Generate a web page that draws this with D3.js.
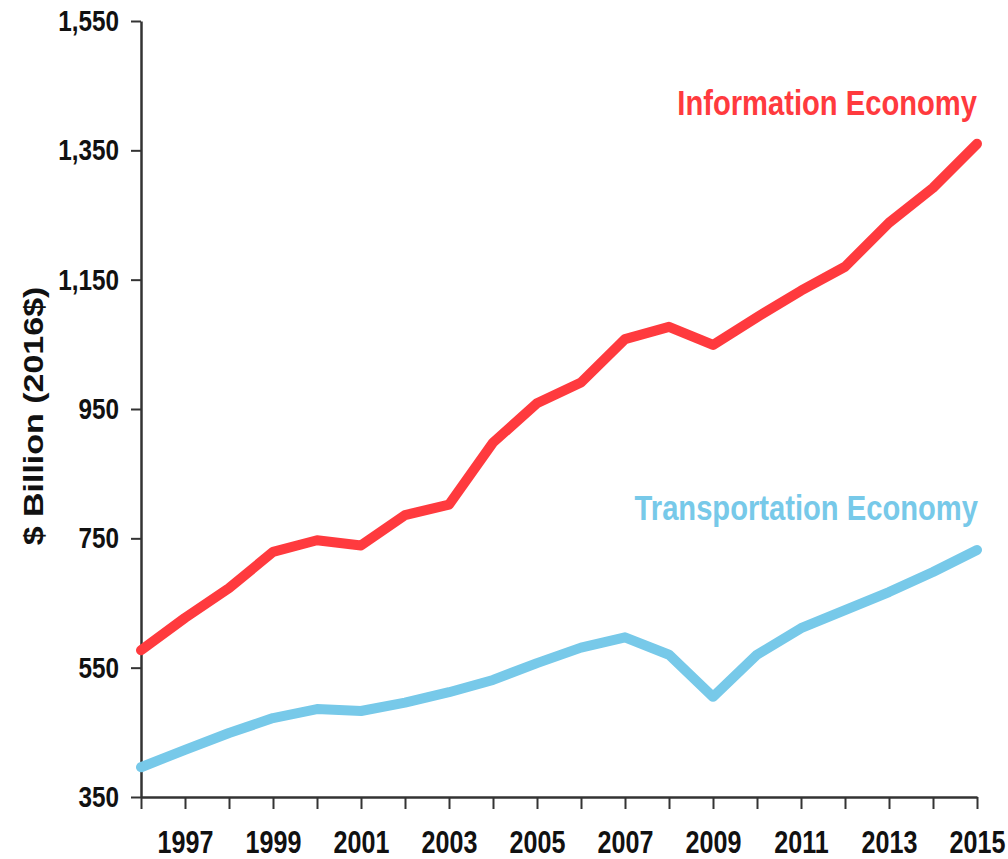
<!DOCTYPE html>
<html>
<head>
<meta charset="utf-8">
<script src="https://cdn.jsdelivr.net/npm/d3@7"></script>
<style>
  body { margin: 0; background: #fff; }
  svg { display: block; }
  text { font-family: "Liberation Sans", Arial, sans-serif; font-weight: bold; }
</style>
</head>
<body>
<svg width="1008" height="859"></svg>
<script>
// data
const years = d3.range(1996, 2016);
const information = [577, 627, 673, 729, 747, 739, 786, 802, 898, 959, 991, 1058, 1077, 1049, 1092, 1133, 1170, 1238, 1292, 1360];
const transportation = [396, 423, 449, 472, 486, 483, 496, 512, 531, 557, 581, 597, 570, 505, 570, 611, 639, 667, 698, 732];
const yTicks = [350, 550, 750, 950, 1150, 1350, 1550];
const xLabels = [1997, 1999, 2001, 2003, 2005, 2007, 2009, 2011, 2013, 2015];

const svg = d3.select("svg");
const squeeze = 0.81; // the original type is horizontally condensed

// squash a text horizontally, keeping its anchor point
function condense(sel) {
  sel.each(function () {
    const t = d3.select(this);
    const x0 = +t.attr("x") || 0;
    t.attr("x", x0 / squeeze).attr("transform", "scale(" + squeeze + ",1)");
  });
}

const x = d3.scaleLinear().domain([1996, 2015]).range([141, 977]);
const y = d3.scaleLinear().domain([350, 1550]).range([797, 21]);

// y axis
const yAxis = svg.append("g")
  .attr("transform", "translate(141,0)")
  .call(d3.axisLeft(y).tickValues(yTicks).tickFormat(d3.format(",")).tickSize(10).tickPadding(12).tickSizeOuter(0));
yAxis.select(".domain").attr("stroke", "#333").attr("stroke-width", 2.5);
yAxis.selectAll(".tick line").attr("stroke", "#333").attr("stroke-width", 2);
yAxis.selectAll(".tick text").attr("font-size", 30).attr("fill", "#111").call(condense);

// x axis
const xAxis = svg.append("g")
  .attr("transform", "translate(0,797)")
  .call(d3.axisBottom(x).tickValues(years).tickFormat(d => xLabels.includes(d) ? d : "").tickSize(12).tickPadding(22).tickSizeOuter(0));
xAxis.select(".domain").attr("stroke", "#333").attr("stroke-width", 2.5);
xAxis.selectAll(".tick line").attr("stroke", "#333").attr("stroke-width", 2);
xAxis.selectAll(".tick text").attr("font-size", 31).attr("fill", "#111").call(condense);

// y axis title (squeezed across, not along, since it is rotated)
svg.append("text")
  .attr("transform", "translate(43,416) rotate(-90) scale(1," + squeeze + ")")
  .attr("text-anchor", "middle")
  .attr("font-size", 34)
  .attr("fill", "#111")
  .text("$ Billion (2016$)");

const line = d3.line().x((d, i) => x(years[i])).y(d => y(d));

svg.append("path")
  .datum(transportation)
  .attr("fill", "none")
  .attr("stroke", "#77c9e9")
  .attr("stroke-width", 10)
  .attr("stroke-linejoin", "round")
  .attr("stroke-linecap", "round")
  .attr("d", line);

svg.append("path")
  .datum(information)
  .attr("fill", "none")
  .attr("stroke", "#ff3a3e")
  .attr("stroke-width", 10)
  .attr("stroke-linejoin", "round")
  .attr("stroke-linecap", "round")
  .attr("d", line);

// series labels
svg.append("text")
  .attr("x", 977).attr("y", 115)
  .attr("text-anchor", "end")
  .attr("font-size", 36)
  .attr("fill", "#ff3a3e")
  .text("Information Economy")
  .call(condense);

svg.append("text")
  .attr("x", 978).attr("y", 520)
  .attr("text-anchor", "end")
  .attr("font-size", 36)
  .attr("fill", "#77c9e9")
  .text("Transportation Economy")
  .call(condense);
</script>
</body>
</html>
